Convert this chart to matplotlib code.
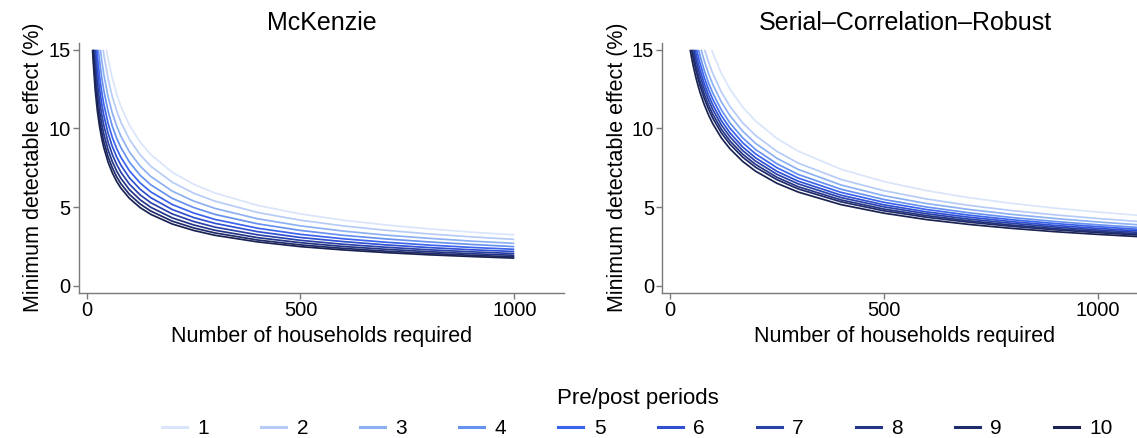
import matplotlib
matplotlib.use("Agg")
import matplotlib.pyplot as plt
from matplotlib.lines import Line2D

plt.rcParams['font.family'] = ['Liberation Sans', 'DejaVu Sans']

periods = ["1", "2", "3", "4", "5", "6", "7", "8", "9", "10"]
colors = ["#dae5fb", "#b7cbf7", "#8db0f3", "#6791ef", "#3c63ec",
          "#2f50d0", "#2a41a8", "#243585", "#1f2b6b", "#1a2352"]

# ---- McKenzie panel ----
mck_start_n = [46.2, 38.4, 32.1, 27.4, 23.7, 20.9, 18.5, 16.5, 15.0, 13.7]
mck_grid = [15, 20, 25, 30, 35, 40, 50, 60, 70, 80, 100, 125, 150, 200, 250,
            300, 400, 500, 600, 700, 800, 900, 1000]
N = None
mck_y = [
    [N, N, N, N, N, N, 14.42, 13.17, 12.19, 11.40, 10.20, 9.12, 8.33, 7.21, 6.45, 5.89, 5.10, 4.56, 4.16, 3.86, 3.61, 3.40, 3.23],
    [N, N, N, N, N, 14.70, 13.15, 12.01, 11.12, 10.40, 9.30, 8.32, 7.59, 6.58, 5.88, 5.37, 4.65, 4.16, 3.80, 3.52, 3.29, 3.10, 2.94],
    [N, N, N, N, 14.37, 13.44, 12.02, 10.97, 10.16, 9.50, 8.50, 7.60, 6.94, 6.01, 5.38, 4.91, 4.25, 3.80, 3.47, 3.21, 3.01, 2.83, 2.69],
    [N, N, N, 14.33, 13.27, 12.41, 11.10, 10.13, 9.38, 8.78, 7.85, 7.02, 6.41, 5.55, 4.97, 4.53, 3.93, 3.51, 3.20, 2.97, 2.78, 2.62, 2.48],
    [N, N, 14.60, 13.33, 12.34, 11.54, 10.32, 9.42, 8.72, 8.16, 7.30, 6.53, 5.96, 5.16, 4.62, 4.21, 3.65, 3.26, 2.98, 2.76, 2.58, 2.43, 2.31],
    [N, N, 13.70, 12.51, 11.58, 10.83, 9.69, 8.84, 8.19, 7.66, 6.85, 6.13, 5.59, 4.84, 4.33, 3.96, 3.43, 3.06, 2.80, 2.59, 2.42, 2.28, 2.17],
    [N, 14.42, 12.90, 11.78, 10.90, 10.20, 9.12, 8.33, 7.71, 7.21, 6.45, 5.77, 5.27, 4.56, 4.08, 3.72, 3.23, 2.88, 2.63, 2.44, 2.28, 2.15, 2.04],
    [N, 13.64, 12.20, 11.14, 10.31, 9.64, 8.63, 7.88, 7.29, 6.82, 6.10, 5.46, 4.98, 4.31, 3.86, 3.52, 3.05, 2.73, 2.49, 2.31, 2.16, 2.03, 1.93],
    [N, 12.97, 11.60, 10.59, 9.80, 9.17, 8.20, 7.49, 6.93, 6.48, 5.80, 5.19, 4.74, 4.10, 3.67, 3.35, 2.90, 2.59, 2.37, 2.19, 2.05, 1.93, 1.83],
    [14.33, 12.41, 11.10, 10.13, 9.38, 8.78, 7.85, 7.17, 6.63, 6.20, 5.55, 4.96, 4.53, 3.92, 3.51, 3.20, 2.78, 2.48, 2.27, 2.10, 1.96, 1.85, 1.75],
]

# ---- Serial-Correlation-Robust panel ----
scr_start_n = [97.3, 81.0, 72.8, 66.7, 62.4, 58.8, 55.8, 52.8, 50.4, 47.2]
scr_grid = [50, 55, 60, 65, 70, 80, 90, 100, 120, 140, 170, 200, 250, 300,
            400, 500, 600, 700, 800, 900, 1000, 1100]
scr_y = [
    [N, N, N, N, N, N, N, 14.80, 13.51, 12.51, 11.35, 10.47, 9.36, 8.55, 7.40, 6.62, 6.04, 5.59, 5.23, 4.93, 4.68, 4.46],
    [N, N, N, N, N, N, 14.23, 13.50, 12.32, 11.41, 10.35, 9.55, 8.54, 7.79, 6.75, 6.04, 5.51, 5.10, 4.77, 4.50, 4.27, 4.07],
    [N, N, N, N, N, 14.31, 13.49, 12.80, 11.69, 10.82, 9.82, 9.05, 8.10, 7.39, 6.40, 5.72, 5.22, 4.84, 4.53, 4.27, 4.05, 3.86],
    [N, N, N, N, 14.64, 13.70, 12.91, 12.25, 11.18, 10.35, 9.40, 8.66, 7.75, 7.07, 6.13, 5.48, 5.00, 4.63, 4.33, 4.08, 3.87, 3.69],
    [N, N, N, 14.70, 14.16, 13.25, 12.49, 11.85, 10.82, 10.02, 9.09, 8.38, 7.50, 6.84, 5.93, 5.30, 4.84, 4.48, 4.19, 3.95, 3.75, 3.57],
    [N, N, 14.85, 14.26, 13.74, 12.86, 12.12, 11.50, 10.50, 9.72, 8.82, 8.13, 7.27, 6.64, 5.75, 5.14, 4.69, 4.35, 4.07, 3.83, 3.64, 3.47],
    [N, N, 14.46, 13.89, 13.39, 12.52, 11.81, 11.20, 10.22, 9.47, 8.59, 7.92, 7.08, 6.47, 5.60, 5.01, 4.57, 4.23, 3.96, 3.73, 3.54, 3.38],
    [N, 14.70, 14.07, 13.52, 13.03, 12.19, 11.49, 10.90, 9.95, 9.21, 8.36, 7.71, 6.89, 6.29, 5.45, 4.87, 4.45, 4.12, 3.85, 3.63, 3.45, 3.29],
    [N, 14.36, 13.75, 13.21, 12.73, 11.91, 11.23, 10.65, 9.72, 9.00, 8.17, 7.53, 6.74, 6.15, 5.33, 4.76, 4.35, 4.03, 3.77, 3.55, 3.37, 3.21],
    [14.57, 13.89, 13.30, 12.78, 12.31, 11.52, 10.86, 10.30, 9.40, 8.71, 7.90, 7.28, 6.51, 5.95, 5.15, 4.61, 4.20, 3.89, 3.64, 3.43, 3.26, 3.11],
]
top_value = 15.0

titles = ["McKenzie", "Serial\u2013Correlation\u2013Robust"]
xlabel = "Number of households required"
ylabel = "Minimum detectable effect (%)"
xticks = [0, 500, 1000]
yticks = [0, 5, 10, 15]

W, H = 1137, 438
fig = plt.figure(figsize=(W / 100, H / 100), dpi=100)

def px_axes(x0, y0, x1, y1):
    return fig.add_axes([x0 / W, 1 - y1 / H, (x1 - x0) / W, (y1 - y0) / H])

ax1 = px_axes(79, 42.7, 564.3, 292.7)
ax2 = px_axes(662.3, 42.7, 1147.6, 292.7)

spine_col = "#7a7a7a"
panels = [(ax1, mck_start_n, mck_grid, mck_y), (ax2, scr_start_n, scr_grid, scr_y)]
for i, (ax, starts, grid, ys) in enumerate(panels):
    for k in range(len(periods)):
        xs = [starts[k]] + [g for g, v in zip(grid, ys[k]) if v is not None]
        yv = [top_value] + [v for v in ys[k] if v is not None]
        ax.plot(xs, yv, color=colors[k], lw=1.25, solid_capstyle='butt')
    ax.set_xlim(-18, 1117)
    ax.set_ylim(-0.45, 15.45)
    ax.set_xticks(xticks)
    ax.set_yticks(yticks)
    for s in ["top", "right"]:
        ax.spines[s].set_visible(False)
    for s in ["left", "bottom"]:
        ax.spines[s].set_color(spine_col)
        ax.spines[s].set_linewidth(1.0)
    ax.tick_params(axis='both', colors=spine_col, labelcolor='black',
                   length=4.5, width=1.0, labelsize=14.5, pad=1.5)
    ax.set_title(titles[i], fontsize=18, pad=9)
    ax.set_xlabel(xlabel, fontsize=15.5, labelpad=4)
    ax.set_ylabel(ylabel, fontsize=15.5, labelpad=3)

handles = [Line2D([0], [0], color=c, lw=2.2) for c in colors]
leg = fig.legend(handles, periods, loc='lower center', bbox_to_anchor=(0.5607, -0.02),
                 ncol=10, frameon=False, title="Pre/post periods", title_fontsize=16,
                 fontsize=15, handlelength=1.2, handletextpad=0.5, columnspacing=2.5,
                 borderaxespad=0.0)

fig.savefig("out.png", dpi=100)
